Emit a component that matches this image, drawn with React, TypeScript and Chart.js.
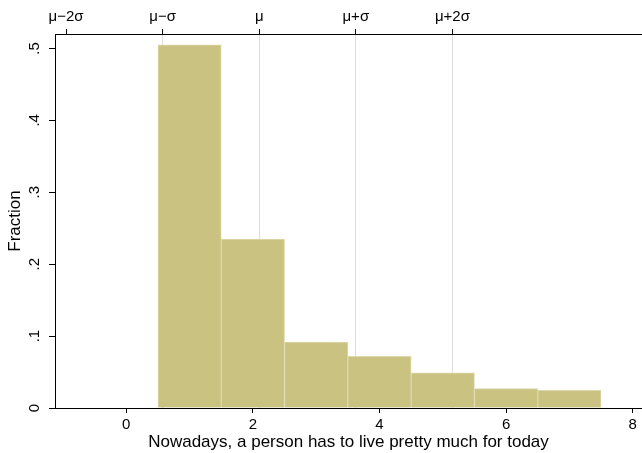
import React, { useEffect, useRef } from "react";
import { Chart, registerables } from "chart.js";

Chart.register(...registerables);

// Histogram bins (centres) and fractions
const binCenters = [1, 2, 3, 4, 5, 6, 7];
const fractions = [0.505, 0.235, 0.0915, 0.072, 0.049, 0.027, 0.0245];

// Axis ticks
const xTicks = [0, 2, 4, 6, 8];
const yTicks = [0, 0.1, 0.2, 0.3, 0.4, 0.5];
const yTickLabels = ["0", ".1", ".2", ".3", ".4", ".5"];

// Mean / standard deviation markers on top axis
const mean = 2.1;
const sd = 1.526;
const sigmaMultiples = [-2, -1, 0, 1, 2];
const sigmaLabels = ["μ−2σ", "μ−σ", "μ", "μ+σ", "μ+2σ"];

const xTitle = "Nowadays, a person has to live pretty much for today";
const yTitle = "Fraction";

const X_MIN = -1.126;
const X_MAX = 8.147;
const Y_MAX = 0.52;

const FONT = '"Liberation Sans", Arial, Helvetica, sans-serif';
const BAR_FILL = "rgb(201,194,128)";
const BAR_EDGE = "rgb(222,217,172)";

export default function App() {
  const ref = useRef<HTMLCanvasElement>(null);

  useEffect(() => {
    document.body.style.margin = "0";
    const canvas = ref.current;
    if (!canvas) return;

    const labelsPlugin = {
      id: "statalabels",
      afterDraw(chart: any) {
        const ctx = chart.ctx;
        const ys = chart.scales.y;
        const area = chart.chartArea;
        ctx.save();
        ctx.fillStyle = "#000";
        ctx.textAlign = "center";
        ctx.textBaseline = "middle";
        ctx.font = `15px ${FONT}`;
        yTicks.forEach((v, i) => {
          const py = ys.getPixelForValue(v);
          ctx.save();
          ctx.translate(35, py);
          ctx.rotate(-Math.PI / 2);
          ctx.fillText(yTickLabels[i], 0, 0);
          ctx.restore();
        });
        ctx.font = `17px ${FONT}`;
        ctx.save();
        ctx.translate(15, (area.top + area.bottom) / 2);
        ctx.rotate(-Math.PI / 2);
        ctx.fillText(yTitle, 0, 0);
        ctx.restore();
        ctx.fillText(xTitle, (area.left + area.right) / 2, 442);
        ctx.restore();
      },
    };

    const chart = new Chart(canvas, {
      type: "bar",
      data: {
        datasets: [
          {
            data: binCenters.map((x, i) => ({ x, y: fractions[i] })),
            backgroundColor: BAR_FILL,
            borderColor: BAR_EDGE,
            borderWidth: 1,
            barPercentage: 1,
            categoryPercentage: 1,
          },
        ],
      },
      options: {
        responsive: false,
        animation: false,
        devicePixelRatio: 1,
        layout: { padding: 0 },
        plugins: { legend: { display: false }, tooltip: { enabled: false } },
        scales: {
          x: {
            type: "linear",
            position: "bottom",
            min: X_MIN,
            max: X_MAX,
            offset: false,
            afterBuildTicks: (s: any) => {
              s.ticks = xTicks.map((v) => ({ value: v }));
            },
            afterFit: (s: any) => {
              s.height = 45;
            },
            grid: {
              offset: false,
              drawOnChartArea: false,
              drawTicks: true,
              tickLength: 5,
              color: "#000",
            },
            border: { display: true, color: "#000", width: 1 },
            ticks: {
              color: "#000",
              font: { size: 15, family: FONT },
              padding: 3,
              maxRotation: 0,
              minRotation: 0,
              callback: (v: any) => String(v),
            },
          },
          x2: {
            type: "linear",
            position: "top",
            min: X_MIN,
            max: X_MAX,
            offset: false,
            afterBuildTicks: (s: any) => {
              s.ticks = sigmaMultiples.map((k) => ({ value: mean + k * sd }));
            },
            afterFit: (s: any) => {
              s.height = 34;
            },
            grid: {
              offset: false,
              drawOnChartArea: true,
              drawTicks: true,
              tickLength: 5,
              color: (c: any) => (c.index === 0 ? "rgba(0,0,0,0)" : "#dcdcdc"),
              tickColor: "#000",
            },
            border: { display: true, color: "#000", width: 1 },
            ticks: {
              color: "#000",
              font: { size: 15, family: FONT },
              padding: 3,
              maxRotation: 0,
              minRotation: 0,
              callback: (_v: any, i: number) => sigmaLabels[i],
            },
          },
          y: {
            type: "linear",
            position: "left",
            min: 0,
            max: Y_MAX,
            afterBuildTicks: (s: any) => {
              s.ticks = yTicks.map((v) => ({ value: v }));
            },
            afterFit: (s: any) => {
              s.width = 55;
            },
            grid: {
              drawOnChartArea: false,
              drawTicks: true,
              tickLength: 6,
              color: "#000",
            },
            border: { display: true, color: "#000", width: 1 },
            ticks: {
              color: "rgba(0,0,0,0)",
              font: { size: 15, family: FONT },
              callback: (_v: any, i: number) => yTickLabels[i],
            },
          },
        },
      },
      plugins: [labelsPlugin],
    });
    return () => chart.destroy();
  }, []);

  return (
    <div style={{ width: 642, height: 453 }}>
      <canvas ref={ref} width={642} height={453} style={{ display: "block" }} />
    </div>
  );
}
